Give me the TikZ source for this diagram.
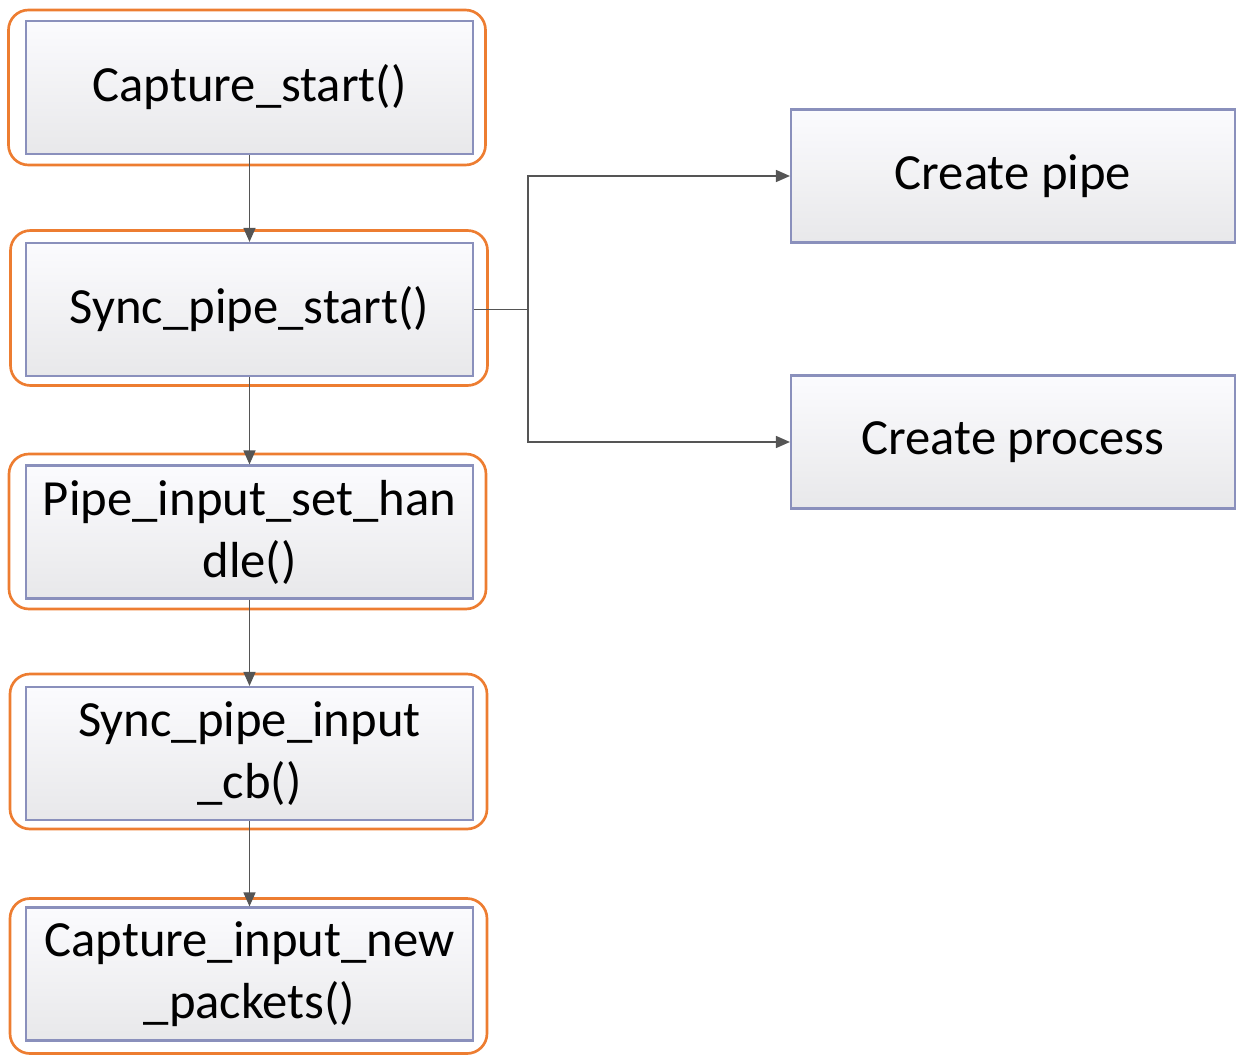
\documentclass[tikz,border=0pt]{standalone}
\usepackage{fontspec}
\setmainfont{Carlito}
\usetikzlibrary{arrows.meta}
\definecolor{halo}{HTML}{ED7D31}
\definecolor{boxline}{HTML}{8A90BC}
\definecolor{boxtop}{HTML}{FBFBFE}
\definecolor{boxbot}{HTML}{E8E8EA}
\definecolor{conn}{HTML}{555555}
\begin{document}
\begin{tikzpicture}[x=0.75pt,y=-0.75pt,
  fnbox/.style={draw=boxline, line width=1.6pt, top color=boxtop, bottom color=boxbot,
    minimum width=335.25pt, minimum height=99.75pt, inner sep=0pt, align=center,
    font=\fontsize{38}{46.5}\selectfont},
  halobox/.style={draw=halo, line width=2pt, rounded corners=15pt,
    minimum width=357.75pt, minimum height=116.25pt, inner sep=0pt},
  flow/.style={draw=conn, line width=1.1pt, -{Triangle[length=10.5pt,width=9pt]}},
  link/.style={draw=conn, line width=1.1pt}]
\useasboundingbox (0,0) rectangle (1237,1056);

% orange frames around the call chain
\node[halobox] (h1) at (247,87.5) {};
\node[halobox] (h2) at (249,308) {};
\node[halobox] (h3) at (247.5,531.5) {};
\node[halobox] (h4) at (248.5,751.5) {};
\node[halobox] (h5) at (248.5,976) {};

% call chain
\node[fnbox] (b1) at (249.5,87.5) {Capture\_start()};
\node[fnbox] (b2) at (249.5,309.5) {Sync\_pipe\_start()};
\node[fnbox] (b3) at (249.5,532) {Pipe\_input\_set\_han\\dle()};
\node[fnbox] (b4) at (249.5,753.5) {Sync\_pipe\_input\\\_cb()};
\node[fnbox] (b5) at (249.5,974) {Capture\_input\_new\\\_packets()};

% work done by Sync_pipe_start()
\node[fnbox, minimum width=333pt] (p1) at (1013,176) {Create pipe};
\node[fnbox, minimum width=333pt] (p2) at (1013,442) {Create process};

% connectors
\draw[flow] (b1) -- (b2);
\draw[flow] (b2) -- (b3);
\draw[flow] (b3) -- (b4);
\draw[flow] (b4) -- (b5);
\draw[link] (b2.east) -- ++(54,0) coordinate (fork);
\draw[flow] (fork) |- (p1.west);
\draw[flow] (fork) |- (p2.west);
\end{tikzpicture}
\end{document}
